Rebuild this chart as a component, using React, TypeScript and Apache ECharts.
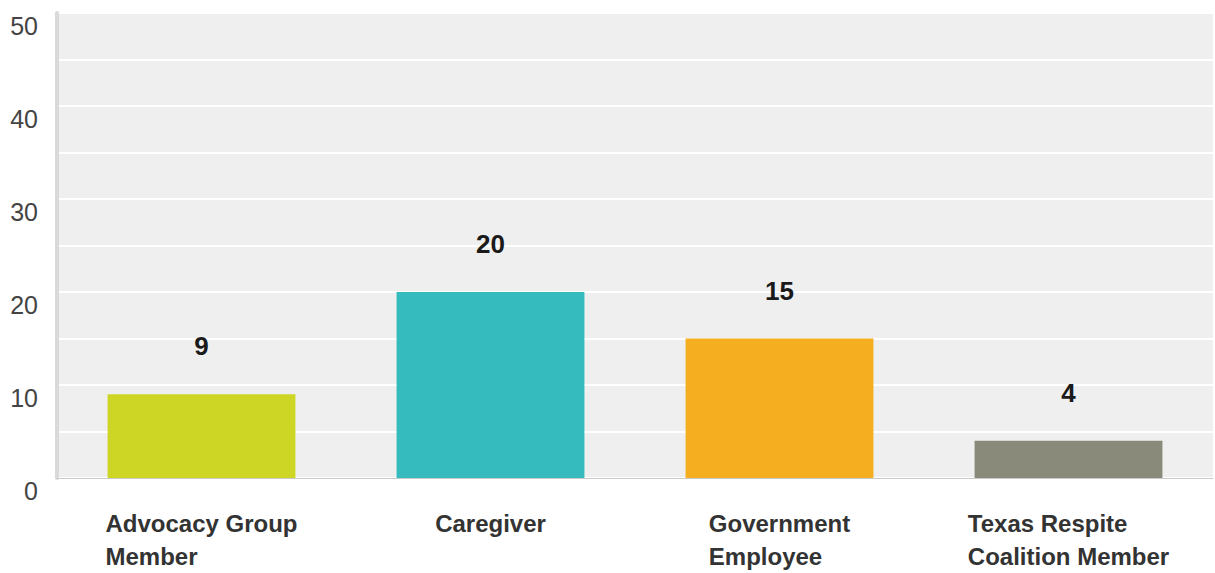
import React, { useEffect, useRef } from "react";
import * as echarts from "echarts";

const categories = [
  "Advocacy Group\nMember",
  "Caregiver",
  "Government\nEmployee",
  "Texas Respite\nCoalition Member",
];
const values = [9, 20, 15, 4];
const barColors = ["#cdd625", "#35bbbe", "#f4ae1f", "#898a7a"];
const yTicks = { min: 0, max: 50, interval: 10 };

export default function App() {
  const ref = useRef<HTMLDivElement>(null);
  useEffect(() => {
    if (!ref.current) return;
    const chart = echarts.init(ref.current, undefined, { renderer: "svg" });
    chart.setOption({
      animation: false,
      grid: {
        left: 57,
        right: 2,
        top: 13,
        bottom: 95,
        show: true,
        backgroundColor: "#efefef",
        borderWidth: 0,
      },
      xAxis: {
        type: "category",
        data: categories,
        axisTick: { show: false },
        axisLine: { show: true, lineStyle: { color: "#c9c9c9", width: 1 } },
        axisLabel: {
          margin: 29,
          interval: 0,
          formatter: (v: string) =>
            v
              .split("\n")
              .map((l) => `{a|${l}}`)
              .join("\n"),
          rich: {
            a: {
              align: "left",
              fontFamily: "Liberation Sans, Arial, sans-serif",
              fontWeight: "bold",
              fontSize: 24,
              lineHeight: 33,
              color: "#333333",
            },
          },
        },
      },
      yAxis: {
        type: "value",
        min: yTicks.min,
        max: yTicks.max,
        interval: yTicks.interval,
        axisLine: { show: true, lineStyle: { color: "#d9d9d9", width: 4 } },
        axisTick: { show: false },
        splitLine: { show: true, lineStyle: { color: "#ffffff", width: 2 } },
        minorTick: { show: false, splitNumber: 2 },
        minorSplitLine: { show: true, lineStyle: { color: "#ffffff", width: 2 } },
        axisLabel: {
          margin: 19,
          verticalAlign: "top",
          fontFamily: "Liberation Sans, Arial, sans-serif",
          fontSize: 25,
          color: "#444444",
        },
      },
      series: [
        {
          type: "bar",
          barWidth: "65%",
          data: values.map((v, i) => ({ value: v, itemStyle: { color: barColors[i] } })),
          label: {
            show: true,
            position: "top",
            distance: 35,
            fontFamily: "Liberation Sans, Arial, sans-serif",
            fontWeight: "bold",
            fontSize: 26,
            color: "#1a1a1a",
          },
        },
      ],
    });
    return () => chart.dispose();
  }, []);
  return (
    <div
      ref={ref}
      style={{ position: "fixed", left: 0, top: 0, width: 1215, height: 573, background: "#ffffff" }}
    />
  );
}
